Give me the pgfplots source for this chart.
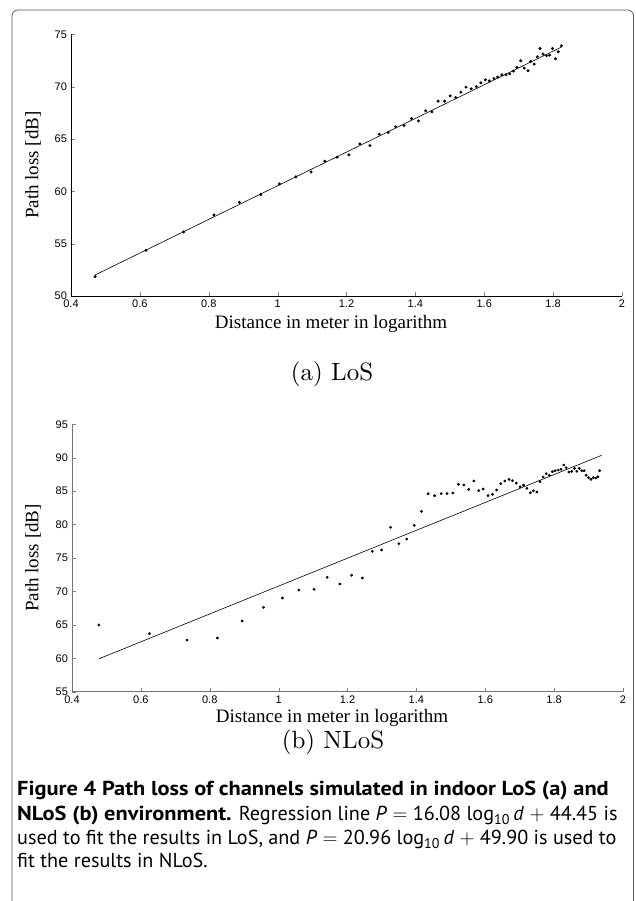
\documentclass[border=0pt]{standalone}
\usepackage{fontspec}
\usepackage{pgfplots}
\pgfplotsset{compat=1.18}
\usepackage{pgfplotstable}
\newfontfamily\tickfont{Liberation Sans}
\newfontfamily\labfont{Liberation Serif}
\newfontfamily\capfont{PT Sans}[BoldFeatures={FakeStretch=1.11}]
\newfontfamily\cmten{lmroman10-regular.otf}
\definecolor{axgray}{gray}{0.45}
\definecolor{framegray}{gray}{0.35}

% LoS: log10 distance, path loss [dB]
\pgfplotstableread{
x y
0.470 51.85
0.618 54.37
0.727 56.12
0.815 57.74
0.889 58.95
0.951 59.69
1.005 60.71
1.053 61.38
1.097 61.85
1.137 62.88
1.173 63.26
1.207 63.48
1.239 64.53
1.268 64.37
1.295 65.46
1.321 65.62
1.343 66.16
1.367 66.28
1.389 66.95
1.409 66.73
1.430 67.69
1.448 67.59
1.466 68.61
1.485 68.61
1.501 69.12
1.517 68.96
1.532 69.47
1.547 69.95
1.562 69.79
1.577 70.01
1.590 70.36
1.603 70.65
1.615 70.55
1.628 70.77
1.639 70.91
1.651 71.13
1.663 71.13
1.674 71.22
1.685 71.48
1.695 71.83
1.706 72.47
1.716 71.77
1.727 71.51
1.735 72.40
1.745 72.15
1.754 72.85
1.762 73.64
1.771 73.11
1.781 72.95
1.790 73.01
1.798 73.64
1.807 72.66
1.815 73.33
1.824 73.90
}\los

% NLoS
\pgfplotstableread{
x y
0.478 64.98
0.625 63.68
0.734 62.73
0.822 63.03
0.894 65.57
0.956 67.62
1.011 69.01
1.059 70.21
1.103 70.31
1.141 72.11
1.178 71.11
1.212 72.41
1.243 72.01
1.272 76.00
1.299 76.19
1.325 79.59
1.349 77.14
1.372 77.84
1.394 79.88
1.415 81.98
1.434 84.62
1.453 84.32
1.472 84.62
1.489 84.62
1.506 84.72
1.522 86.02
1.538 85.92
1.552 85.27
1.567 86.52
1.581 85.07
1.594 85.32
1.608 84.32
1.621 84.52
1.633 85.17
1.645 86.11
1.657 86.52
1.669 86.77
1.679 86.56
1.690 86.21
1.701 85.66
1.711 85.91
1.721 85.42
1.731 84.76
1.740 85.06
1.750 84.87
1.759 86.41
1.768 87.11
1.777 87.61
1.786 87.37
1.795 87.91
1.803 88.06
1.812 88.16
1.820 88.27
1.828 88.91
1.835 88.51
1.843 87.86
1.851 87.96
1.859 88.41
1.866 87.96
1.873 88.41
1.880 88.06
1.887 88.06
1.893 87.37
1.900 87.01
1.907 86.77
1.914 87.01
1.921 86.96
1.927 87.16
1.932 88.06
}\nlos

\pgfplotsset{
  pl/.style={
    scale only axis, width=551pt,
    axis x line=bottom, axis y line=left,
    axis line style={-},
    tick align=inside, major tick length=4pt,
    xmin=0.4, xmax=2,
    xtick={0.4,0.6,0.8,1,1.2,1.4,1.6,1.8,2},
    tick label style={font=\tickfont\fontsize{11}{12}\selectfont},
    xticklabel style={yshift=-0.5pt},
    yticklabel style={xshift=-0.5pt},
    /pgf/number format/assume math mode=true,
    xlabel={Distance in meter in logarithm},
    ylabel={Path loss [dB]},
    label style={font=\labfont\fontsize{19}{19}\selectfont},
    clip=false,
  }
}

\begin{document}
\begin{tikzpicture}
\useasboundingbox (0pt,0pt) rectangle (635pt,901pt);
\draw[framegray, line width=0.8pt, rounded corners=6pt]
  (12pt,-20pt) -- (12pt,891pt) -- (633.5pt,891pt) -- (633.5pt,-20pt);

\begin{axis}[pl, at={(71pt,605pt)}, anchor=south west, height=261.7pt,
  ymin=50, ymax=75, ytick={50,55,60,65,70,75},
  xlabel style={at={(axis description cs:0.472,-0.1234)}, anchor=base},
  ylabel style={at={(axis description cs:-0.059,0.5)}, anchor=base},
  axis line style={black, line width=0.6pt}]
\addplot[only marks, mark=*, mark size=1.3pt, black] table[x=x, y=y] {\los};
\addplot[black, line width=0.6pt] coordinates {(0.470,52.01) (1.824,73.78)};
\end{axis}

\begin{axis}[pl, at={(72pt,209.3pt)}, anchor=south west, height=267.4pt,
  ymin=55, ymax=95, ytick={55,60,65,70,75,80,85,90,95},
  xlabel style={at={(axis description cs:0.472,-0.114)}, anchor=base},
  ylabel style={at={(axis description cs:-0.061,0.5)}, anchor=base},
  axis line style={axgray, line width=0.8pt}]
\addplot[only marks, mark=*, mark size=1.2pt, black] table[x=x, y=y] {\nlos};
\addplot[black, line width=0.6pt] coordinates {(0.479,59.94) (1.938,90.36)};
\end{axis}

\node[anchor=base, inner sep=0pt] at (332pt,520pt) {\cmten\fontsize{25}{25}\selectfont (a) LoS};
\node[anchor=base, inner sep=0pt] at (333pt,152pt) {\cmten\fontsize{25}{25}\selectfont (b) NLoS};

\begin{scope}[every node/.style={anchor=base west, inner sep=0pt, font=\capfont\fontsize{20.2}{20}\selectfont}]
\node at (17pt,105pt) {\bfseries Figure 4 Path loss of channels simulated in indoor LoS (a) and};
\node at (17pt,80pt) {\textbf{NLoS (b) environment.} Regression line \textit{P} $=$ 16.08 log\textsubscript{10}\,\textit{d} $+$ 44.45 is};
\node at (17pt,56pt) {used to fit the results in LoS, and \textit{P} $=$ 20.96 log\textsubscript{10}\,\textit{d} $+$ 49.90 is used to};
\node at (17pt,33pt) {fit the results in NLoS.};
\end{scope}
\end{tikzpicture}
\end{document}
